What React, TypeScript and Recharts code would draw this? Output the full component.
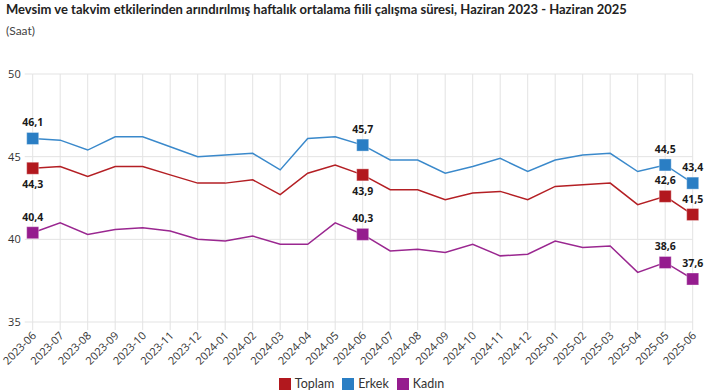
import React from "react";
import { LineChart, Line, XAxis, YAxis, CartesianGrid } from "recharts";

const categories = [
  "2023-06", "2023-07", "2023-08", "2023-09", "2023-10", "2023-11", "2023-12",
  "2024-01", "2024-02", "2024-03", "2024-04", "2024-05", "2024-06", "2024-07",
  "2024-08", "2024-09", "2024-10", "2024-11", "2024-12", "2025-01", "2025-02",
  "2025-03", "2025-04", "2025-05", "2025-06",
];
const toplam = [44.3, 44.4, 43.8, 44.4, 44.4, 43.9, 43.4, 43.4, 43.6, 42.7, 44.0, 44.5, 43.9, 43.0, 43.0, 42.4, 42.8, 42.9, 42.4, 43.2, 43.3, 43.4, 42.1, 42.6, 41.5];
const erkek = [46.1, 46.0, 45.4, 46.2, 46.2, 45.6, 45.0, 45.1, 45.2, 44.2, 46.1, 46.2, 45.7, 44.8, 44.8, 44.0, 44.4, 44.9, 44.1, 44.8, 45.1, 45.2, 44.1, 44.5, 43.4];
const kadin = [40.4, 41.0, 40.3, 40.6, 40.7, 40.5, 40.0, 39.9, 40.2, 39.7, 39.7, 41.0, 40.3, 39.3, 39.4, 39.2, 39.7, 39.0, 39.1, 39.9, 39.5, 39.6, 38.0, 38.6, 37.6];
const highlighted = [0, 12, 23, 24];
const yTicks = [35, 40, 45, 50];

const seriesInfo = [
  { key: "toplam", name: "Toplam", color: "#B41F24", marker: "#B2181E" },
  { key: "erkek", name: "Erkek", color: "#3A89CB", marker: "#2A7EC4" },
  { key: "kadin", name: "Kadın", color: "#9A2790", marker: "#951C8E" },
];

const data = categories.map((c, i) => ({
  cat: c,
  toplam: toplam[i],
  erkek: erkek[i],
  kadin: kadin[i],
}));

const FONT = "'Open Sans', sans-serif";
const FONT2 = "Lato, sans-serif";

const fmt = (v: number) => v.toFixed(1).replace(".", ",");

const makeDot = (key: string, marker: string) => (props: any) => {
  const { cx, cy, index, value } = props;
  if (!highlighted.includes(index) || cx == null || cy == null) {
    return <g key={`d-${key}-${index}`} />;
  }
  let below = false;
  if (key === "toplam" && index < 20) below = true;
  const ly = below ? cy + 16 : cy - 16;
  return (
    <g key={`d-${key}-${index}`}>
      <rect x={cx - 6} y={cy - 6} width={12} height={12} fill={marker} stroke="rgba(255,255,255,0.35)" strokeWidth={1} />
      <text
        x={cx}
        y={ly}
        textAnchor="middle"
        dominantBaseline="central"
        fontFamily={FONT}
        fontSize={10.5}
        fontWeight={700}
        fill="#1a1a1a"
      >
        {fmt(value)}
      </text>
    </g>
  );
};

const XTick = (props: any) => {
  const { x, y, payload } = props;
  return (
    <g transform={`translate(${x},${y})`}>
      <text
        x={0}
        y={0}
        dy={6}
        textAnchor="end"
        transform="rotate(-45)"
        fill="#333"
        fontSize={11}
        fontFamily={FONT}
      >
        {payload.value}
      </text>
    </g>
  );
};

export default function App() {
  return (
    <div style={{ position: "absolute", left: 0, top: 0, width: 723, height: 392, background: "#fff", fontFamily: FONT2 }}>
      <div style={{ position: "absolute", left: 6, top: 0, fontSize: 13, fontWeight: 700, color: "#222", whiteSpace: "nowrap", lineHeight: "18px" }}>
        Mevsim ve takvim etkilerinden arındırılmış haftalık ortalama fiili çalışma süresi, Haziran 2023 - Haziran 2025
      </div>
      <div style={{ position: "absolute", left: 6, top: 22, fontSize: 12, color: "#444", lineHeight: "18px" }}>
        (Saat)
      </div>
      <div style={{ position: "absolute", left: 0, top: 0 }}>
        <LineChart width={723} height={392} data={data} margin={{ top: 74, right: 30.3, bottom: 0, left: 0 }}>
          <CartesianGrid stroke="#e3e3e3" strokeWidth={1} />
          <XAxis
            dataKey="cat"
            height={70}
            interval={0}
            tickSize={8}
            tickMargin={2}
            axisLine={false}
            tickLine={{ stroke: "#e3e3e3" }}
            tick={<XTick />}
          />
          <YAxis
            width={32.7}
            domain={[35, 50]}
            ticks={yTicks}
            tickSize={8}
            tickMargin={4}
            axisLine={false}
            tickLine={{ stroke: "#e3e3e3" }}
            tick={{ fill: "#333", fontSize: 11, fontFamily: FONT }}
          />
          {seriesInfo.map((s) => (
            <Line
              key={s.key}
              type="linear"
              dataKey={s.key}
              name={s.name}
              stroke={s.color}
              strokeWidth={1.5}
              dot={makeDot(s.key, s.marker)}
              activeDot={false}
              isAnimationActive={false}
            />
          ))}
        </LineChart>
      </div>
      <div style={{ position: "absolute", left: 0, top: 376, width: 723, display: "flex", justifyContent: "center", alignItems: "center", fontSize: 12.5, color: "#333" }}>
        {seriesInfo.map((s) => (
          <div key={s.key} style={{ display: "flex", alignItems: "center", margin: "0 4px" }}>
            <span style={{ width: 12, height: 12, background: s.marker, display: "inline-block", marginRight: 4 }} />
            <span style={{ lineHeight: "16px" }}>{s.name}</span>
          </div>
        ))}
      </div>
    </div>
  );
}
